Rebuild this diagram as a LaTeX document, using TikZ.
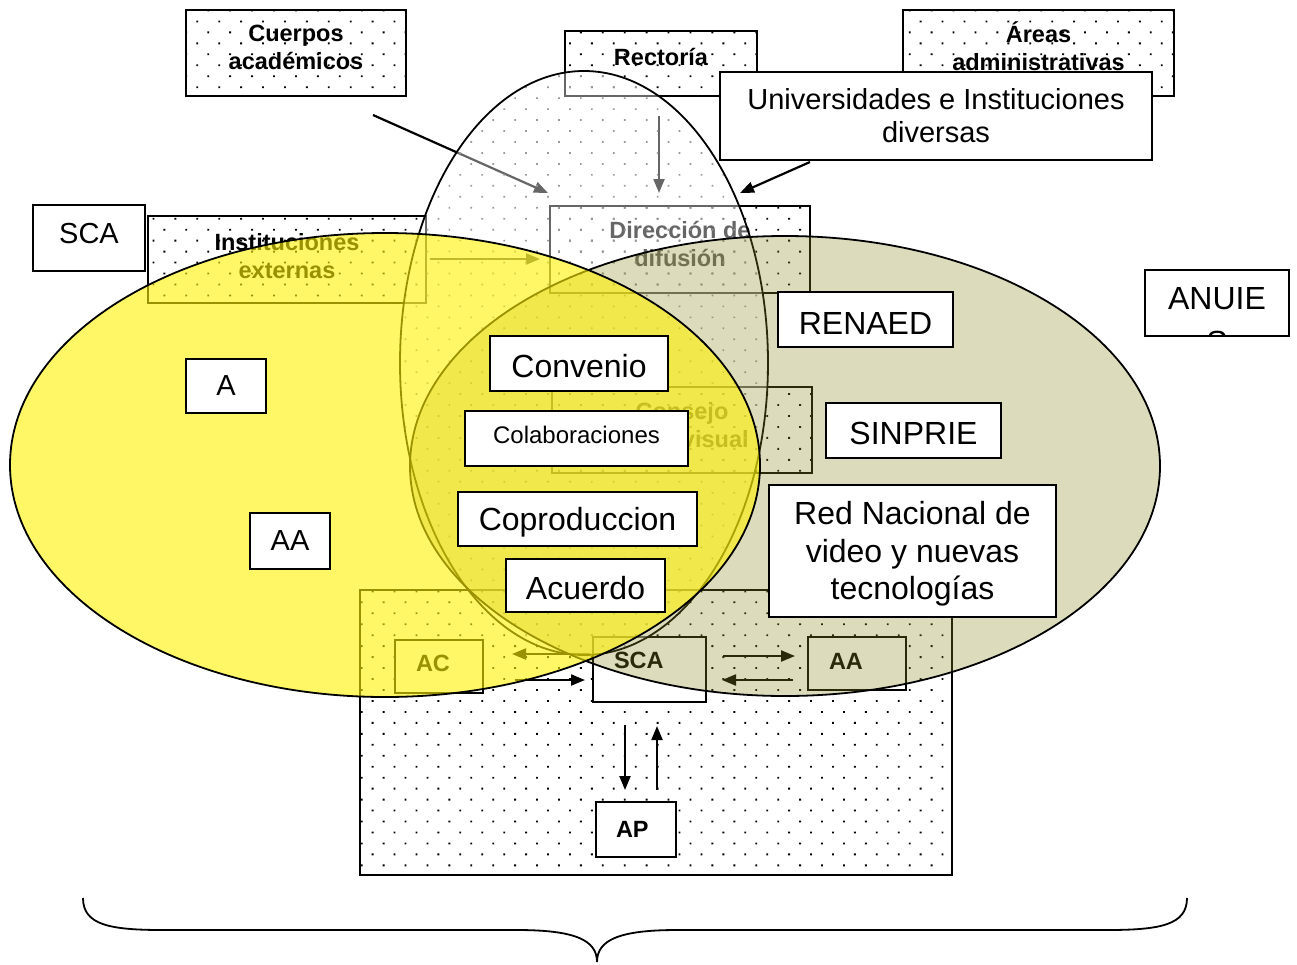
\documentclass[tikz,border=0pt]{standalone}
\usepackage{fontspec}
\setmainfont{Liberation Sans}
\usetikzlibrary{patterns.meta,arrows.meta}
\definecolor{khaki}{rgb}{0.55,0.55,0.15}

\begin{document}
\begin{tikzpicture}[
    x=1pt, y=-1pt,
    dotbox/.style={draw, line width=1.6pt, inner sep=0pt, align=center,
      pattern={Dots[angle=45,distance=15.5pt,radius=1.3pt]}, pattern color=black,
      font=\bfseries\fontsize{23.5}{28}\selectfont},
    smallbox/.style={draw, fill=white, line width=1.6pt, inner ysep=0pt, inner xsep=21pt,
      align=left, font=\bfseries\fontsize{23.5}{28}\selectfont},
    whitebox/.style={draw, fill=white, line width=1.6pt, inner sep=0pt, align=center,
      font=\fontsize{32}{37.5}\selectfont},
    lowtext/.style={text height=29pt},
    midtext/.style={font=\fontsize{29}{33}\selectfont},
    conn/.style={line width=2.2pt, -{Triangle[length=14pt,width=11pt]}},
    edge/.style={line width=1.8pt},
  ]
  \useasboundingbox (0,0) rectangle (1297,964);

  % boxes in the back
  \node[dotbox, minimum width=220pt, minimum height=86pt, text depth=12pt] (cuerpos) at (296,53) {Cuerpos\\académicos};
  \node[dotbox, minimum width=192pt, minimum height=65pt, text depth=14pt] (rectoria) at (661,63.5) {Rectoría};
  \node[dotbox, minimum width=271pt, minimum height=86pt, text depth=14pt] (areas) at (1038.5,53) {Áreas\\administrativas};
  \node[dotbox, minimum width=278pt, minimum height=87pt, text depth=7pt] (externas) at (287,259.5) {Instituciones\\externas};
  \node[dotbox, minimum width=260pt, minimum height=87pt, text depth=11pt] (direccion) at (680,249.5) {Dirección de\\difusión};
  \node[dotbox, minimum width=260pt, minimum height=86pt, text depth=10pt] (consejo) at (682,430) {Consejo\\Audiovisual};
  \node[dotbox, minimum width=592pt, minimum height=285pt] (base) at (656,732.5) {};
  \node[smallbox, text width=46pt, minimum height=53pt, text depth=7pt] (ac) at (439,666.5) {AC};
  \node[smallbox, text width=71pt, minimum height=65pt, text depth=19pt] (scab) at (649.5,669.5) {SCA};
  \node[smallbox, text width=56pt, minimum height=53pt, text depth=5pt] (aab) at (857,663.5) {AA};
  \node[smallbox, inner xsep=20pt, text width=40pt, minimum height=55pt] (ap) at (636,829.5) {AP};

  % connectors
  \coordinate (c1) at (373,115);  \coordinate (c2) at (548,193);
  \coordinate (r1) at (659,116);  \coordinate (r2) at (659,193);
  \coordinate (u1) at (810,162);  \coordinate (u2) at (740,193);
  \coordinate (e1) at (430,259);  \coordinate (e2) at (540,259);
  \coordinate (s1) at (590,654);  \coordinate (s2) at (512,654);
  \coordinate (s3) at (515,680);  \coordinate (s4) at (585,680);
  \coordinate (s5) at (723,656);  \coordinate (s6) at (795,656);
  \coordinate (s7) at (793,680);  \coordinate (s8) at (722,680);
  \coordinate (p1) at (625,725);  \coordinate (p2) at (625,790);
  \coordinate (p3) at (657,790);  \coordinate (p4) at (657,726);
  \draw[conn] (c1) -- (c2);
  \draw[conn] (r1) -- (r2);
  \draw[conn] (u1) -- (u2);
  \draw[conn] (e1) -- (e2);
  \draw[conn] (s1) -- (s2);
  \draw[conn] (s3) -- (s4);
  \draw[conn] (s5) -- (s6);
  \draw[conn] (s7) -- (s8);
  \draw[conn] (p1) -- (p2);
  \draw[conn] (p3) -- (p4);

  % the three ellipses
  \path[fill=white, fill opacity=.4] (584,363) ellipse [x radius=184, y radius=292];
  \path[pattern={Dots[angle=45,distance=15.5pt,radius=1.2pt]}, pattern color=black!40]
    (584,363) ellipse [x radius=184, y radius=292];
  \draw[edge] (584,363) ellipse [x radius=184, y radius=292];
  \draw[edge, fill=khaki, fill opacity=.3] (785,466) ellipse [x radius=375, y radius=230];
  \draw[edge, fill=yellow, fill opacity=.6] (385,465) ellipse [x radius=375, y radius=232];

  % labels on top
  \node[whitebox, lowtext, minimum width=178pt, minimum height=55pt] (convenio) at (579,363.5) {Convenio};
  \node[whitebox, minimum width=223pt, minimum height=55pt, text height=11pt, font=\fontsize{24}{28}\selectfont] (colab) at (576.5,438.5) {Colaboraciones};
  \node[whitebox, lowtext, minimum width=239pt, minimum height=54pt] (coprod) at (577.5,519) {Coproduccion};
  \node[whitebox, lowtext, minimum width=159pt, minimum height=53pt] (acuerdo) at (585.5,585.5) {Acuerdo};
  \node[whitebox, lowtext, minimum width=175pt, minimum height=55pt] (renaed) at (865.5,319.5) {RENAED};
  \node[whitebox, lowtext, minimum width=175pt, minimum height=55pt] (sinprie) at (913.5,430.5) {SINPRIE};
  \node[whitebox, minimum width=287pt, minimum height=132pt, text depth=0.5pt] (red) at (912.5,551) {Red Nacional de\\video y nuevas\\tecnologías};
  \node[whitebox, midtext, minimum width=112pt, minimum height=66pt, text depth=10pt] (sca) at (89,238) {SCA};
  \node[whitebox, midtext, minimum width=80pt, minimum height=54pt] (a) at (226,386) {A};
  \node[whitebox, midtext, minimum width=80pt, minimum height=56pt] (aa) at (290,541) {AA};
  \node[whitebox, minimum width=144pt, minimum height=66pt,
    path picture={\node[draw=none, fill=none, inner sep=0pt, align=center, font=\fontsize{32}{44}\selectfont]
      at ([yshift=-17.5pt]path picture bounding box.center) {ANUIE\\S};}] (anuie) at (1217,303) {};
  \node[whitebox, midtext, minimum width=432pt, minimum height=88pt] (univ) at (936,116) {Universidades e Instituciones\\diversas};

  % brace
  \draw[edge] (83,898) .. controls (83,925) and (110,930) .. (163,930) -- (517,930)
    .. controls (575,930) and (597,940) .. (597,962)
    .. controls (597,940) and (619,930) .. (677,930) -- (1107,930)
    .. controls (1160,930) and (1187,925) .. (1187,898);
\end{tikzpicture}
\end{document}
